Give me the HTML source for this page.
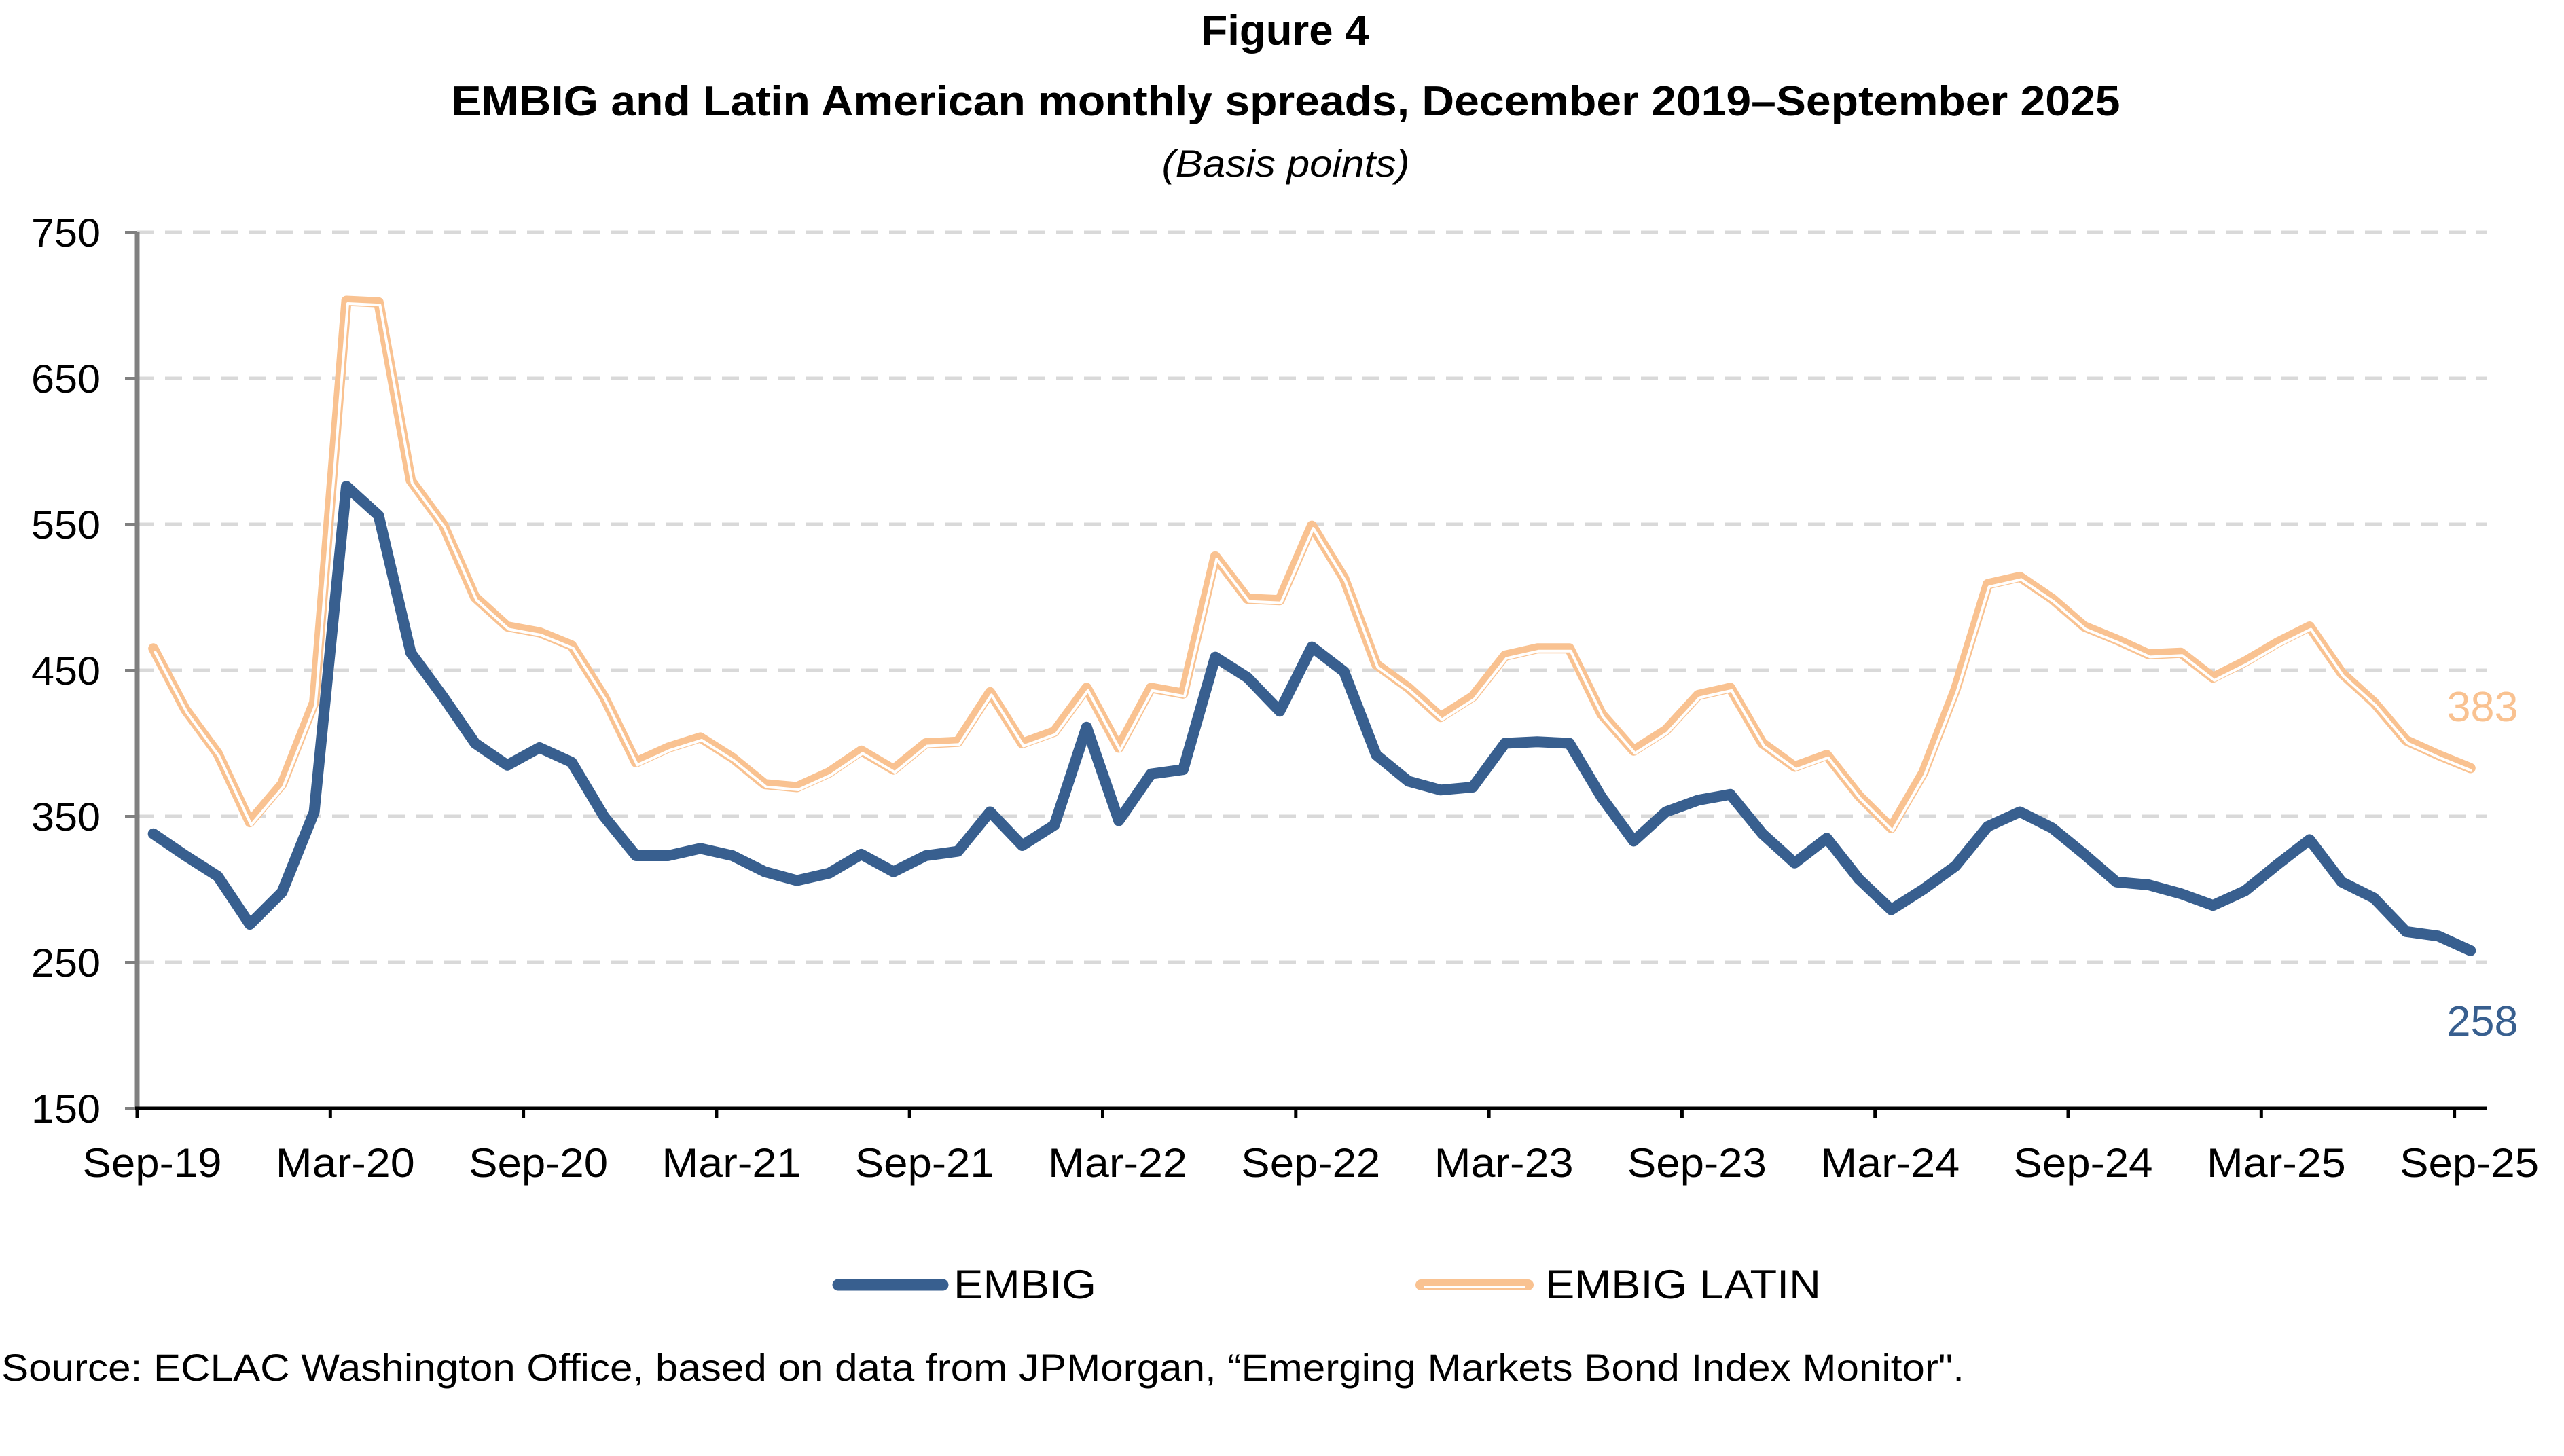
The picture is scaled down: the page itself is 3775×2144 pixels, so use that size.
<!DOCTYPE html>
<html><head><meta charset="utf-8"><style>
body{margin:0;background:#fff;}
svg{display:block;}
</style></head><body>
<svg width="3775" height="2144" xmlns="http://www.w3.org/2000/svg" font-family="Liberation Sans, sans-serif">
<text x="1892" y="66" text-anchor="middle" font-size="62" font-weight="bold" textLength="247" lengthAdjust="spacingAndGlyphs">Figure 4</text>
<text x="1893" y="170" text-anchor="middle" font-size="62" font-weight="bold" textLength="2457" lengthAdjust="spacingAndGlyphs">EMBIG and Latin American monthly spreads, December 2019–September 2025</text>
<text x="1893" y="260" text-anchor="middle" font-size="56" font-style="italic" textLength="365" lengthAdjust="spacingAndGlyphs">(Basis points)</text>
<g id="grid"></g>
<g id="axes"></g>
<g id="series"></g>
<g>
<line x1="1234" y1="1892" x2="1388" y2="1892" stroke="#385f8f" stroke-width="17" stroke-linecap="round"/>
<text x="1404" y="1912" font-size="60" textLength="210" lengthAdjust="spacingAndGlyphs">EMBIG</text>
<line x1="2092" y1="1892" x2="2250" y2="1892" stroke="#f9c291" stroke-width="16" stroke-linecap="round"/>
<line x1="2096" y1="1895" x2="2246" y2="1895" stroke="#fff" stroke-width="4"/>
<text x="2275" y="1912" font-size="60" textLength="406" lengthAdjust="spacingAndGlyphs">EMBIG LATIN</text>
</g>
<text x="2" y="2033" font-size="56" textLength="2890" lengthAdjust="spacingAndGlyphs">Source: ECLAC Washington Office, based on data from JPMorgan,  “Emerging Markets Bond Index Monitor".</text>
</svg>
<script>
const embig=[338,323,309,276,298,353,576,556,462,432,400,385,397,387,350,323,323,328,323,312,306,311,324,312,323,326,353,330,344,411,347,379,382,459,445,422,466,449,392,374,368,370,400,401,400,363,333,353,361,365,338,318,335,307,286,300,316,343,353,342,324,305,303,297,289,299,317,334,305,294,271,268,258];
const latin=[465,423,393,346,372,428,703,702,580,550,500,480,476,467,432,387,397,404,390,372,370,380,395,382,400,401,435,400,408,438,397,438,434,528,499,498,549,513,454,438,418,432,460,465,465,420,395,409,433,438,400,384,392,364,342,380,437,509,514,499,480,471,461,462,445,456,469,480,448,428,402,392,383];
const yTicks=[150,250,350,450,550,650,750];
const xTickLabels=["Sep-19","Mar-20","Sep-20","Mar-21","Sep-21","Mar-22","Sep-22","Mar-23","Sep-23","Mar-24","Sep-24","Mar-25","Sep-25"];
const endLabels=["383","258"];

const NS="http://www.w3.org/2000/svg";
const L=202,R=3661,T=342,B=1632,N=73,W=(R-L)/N;
const y=v=>B-(v-150)/600*(B-T);
const x=i=>L+W*(i+0.5);
function mk(tag,attrs,parent){const e=document.createElementNS(NS,tag);for(const k in attrs)e.setAttribute(k,attrs[k]);parent.appendChild(e);return e;}
const grid=document.getElementById('grid'),axes=document.getElementById('axes'),ser=document.getElementById('series');
yTicks.forEach(v=>{
  if(v>150){const g=mk('line',{x1:L,x2:R,y1:y(v),y2:y(v),stroke:'#d9d9d9','stroke-width':5,'stroke-dasharray':'25 16'},grid);
  
  }
  const t=mk('line',{x1:L-18,x2:L,y1:y(v),y2:y(v),stroke:'#808080','stroke-width':4},axes);
  
  
  const tx=mk('text',{x:148,y:y(v)+21,'text-anchor':'end','font-size':58,textLength:102,lengthAdjust:'spacingAndGlyphs'},axes);
  tx.textContent=v;
  
  
});
const ya=mk('line',{x1:L,x2:L,y1:T,y2:B,stroke:'#808080','stroke-width':7},axes);


const xa=mk('line',{x1:L-3,x2:R,y1:B,y2:B,stroke:'#000','stroke-width':5},axes);


xTickLabels.forEach((s,k)=>{
  const px=L+W*6*k;
  const t=mk('line',{x1:px,x2:px,y1:B,y2:B+14,stroke:'#000','stroke-width':5},axes);
  
  
  const tx=mk('text',{x:px+22,y:1733,'text-anchor':'middle','font-size':60,textLength:205,lengthAdjust:'spacingAndGlyphs'},axes);
  tx.textContent=s;
  
  
});
const pts=a=>a.map((v,i)=>x(i).toFixed(1)+','+y(v).toFixed(1)).join(' ');
const lo=mk('polyline',{points:pts(latin),fill:'none',stroke:'#f9c291','stroke-width':15,'stroke-linejoin':'round','stroke-linecap':'round'},ser);


const li=mk('polyline',{points:pts(latin),fill:'none',stroke:'#fff','stroke-width':4,'stroke-linejoin':'round',transform:'translate(2,4)'},ser);


const eb=mk('polyline',{points:pts(embig),fill:'none',stroke:'#385f8f','stroke-width':16,'stroke-linejoin':'round','stroke-linecap':'round'},ser);


const l1=mk('text',{x:3655,y:1062,'text-anchor':'middle','font-size':62,fill:'#f9c291',textLength:105,lengthAdjust:'spacingAndGlyphs'},ser);
l1.textContent=endLabels[0];


const l2=mk('text',{x:3655,y:1525,'text-anchor':'middle','font-size':62,fill:'#385f8f',textLength:105,lengthAdjust:'spacingAndGlyphs'},ser);
l2.textContent=endLabels[1];


</script>
</body></html>
